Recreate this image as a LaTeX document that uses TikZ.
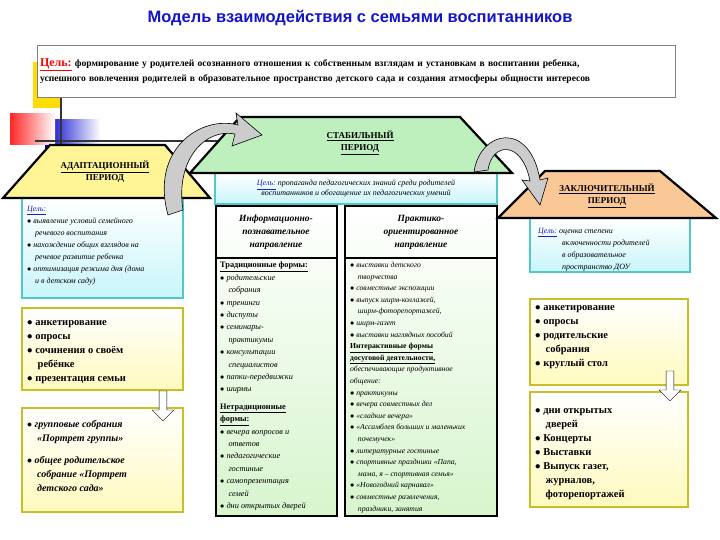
\documentclass[tikz,border=0pt]{standalone}
\usepackage{fontspec}
\setmainfont{Liberation Serif}
\newfontfamily\hd{Liberation Sans}
\usetikzlibrary{shapes.arrows}
\definecolor{ttl}{RGB}{20,20,200}
\definecolor{cy}{RGB}{80,200,200}
\definecolor{lcy}{RGB}{200,245,250}
\definecolor{yb}{RGB}{200,190,40}
\definecolor{ly}{RGB}{255,250,190}
\definecolor{trY}{RGB}{255,245,150}
\definecolor{trG}{RGB}{190,240,190}
\definecolor{trP}{RGB}{250,200,150}
\definecolor{lg}{RGB}{215,245,205}
\definecolor{lnk}{RGB}{30,30,200}
\tikzset{
 roof/.style={draw=black,line width=2.2pt,line join=miter},
 goalbox/.style={draw=cy,line width=2pt,top color=white,bottom color=lcy},
 ybox/.style={draw=yb,line width=2pt,top color=white,bottom color=ly},
 col/.style={draw=black,line width=1.8pt,top color=white,bottom color=lg},
 txt/.style={anchor=north west,align=left,font=\fontsize{8}{12}\selectfont\itshape,inner sep=0pt},
 big/.style={anchor=north west,align=left,font=\fontsize{10.5}{14}\selectfont\bfseries,inner sep=0pt},
 ttxt/.style={align=center,font=\fontsize{9}{12}\selectfont\bfseries},
 curv/.style={draw=black,fill=black!20,line width=0.6pt},
 dn/.style={single arrow,shape border rotate=270,draw=black,fill=white,minimum height=30pt,minimum width=22pt,single arrow head extend=4pt,inner sep=2pt}
}
\newcommand{\lk}[1]{\textcolor{lnk}{\underline{\textbf{#1}}}}
\newcommand{\bu}{$\bullet$\ }
\begin{document}
\begin{tikzpicture}[x=1pt,y=-1pt]
\useasboundingbox (0,0) rectangle (720,540);
\fill[white] (0,0) rectangle (720,540);
% decoration
\fill[yellow!80!orange] (33,62) rectangle (62,108);
\shade[left color=blue!80!black,right color=white] (45,120) rectangle (100,150);
\shade[left color=red!85,right color=white] (10,114) rectangle (55,145);
\draw[black!80,line width=1.3pt] (35,141) -- (330,141);
\draw[black!80,line width=1.3pt] (61,95) -- (61,145);
\node[font=\hd\fontsize{16.5}{18}\selectfont\bfseries,text=ttl] (title) at (360,18) {Модель взаимодействия с семьями воспитанников};
\node[draw=black!50,fill=white,line width=0.8pt,minimum width=638pt,minimum height=52pt,align=left,font=\fontsize{9.6}{15}\selectfont\bfseries,text width=632pt,inner sep=3pt] (goal) at (356,71)
 {\textcolor{red}{\underline{\fontsize{12}{14}\selectfont Цель:}} формирование у родителей осознанного отношения к собственным взглядам и установкам в воспитании ребенка,\\ успешного  вовлечения родителей в образовательное пространство детского сада и создания атмосферы общности интересов};
% left column
\draw[goalbox] (22,198) rectangle (183,298);
\node[txt] (lg) at (27,206) {\lk{\itshape\mdseries Цель:}\\ \bu выявление условий семейного\\ \quad речевого воспитания\\ \bu нахождение общих взглядов на\\ \quad речевое развитие ребенка\\ \bu оптимизация режима дня (дома\\ \quad и в детском саду)};
\draw[roof,fill=trY] (50,145) -- (165,145) -- (210,198) -- (3,198) -- cycle;
\node[ttxt] (ad) at (105,172) {\underline{АДАПТАЦИОННЫЙ}\\ПЕРИОД};
\draw[ybox] (22,308) rectangle (183,390);
\node[big] (l2) at (27,320) {\bu анкетирование\\ \bu опросы\\ \bu сочинения о своём\\ \quad ребёнке\\ \bu презентация семьи};
\draw[ybox] (22,408) rectangle (183,512);
\node[big,font=\fontsize{10}{14}\selectfont\bfseries\itshape] (l3) at (27,420) {\bu групповые собрания\\ \quad «Портрет группы»\\[8pt] \bu общее родительское\\ \quad собрание «Портрет\\ \quad детского сада»};
\node[dn] (ad1) at (163,404) {};
% middle
\draw[goalbox] (215,173) rectangle (497,204);
\node[font=\fontsize{8}{10}\selectfont\itshape,align=center] (mg) at (356,189) {\lk{\mdseries Цель:} пропаганда педагогических знаний среди родителей\\ воспитанников и обогащение их педагогических умений};
\draw[roof,fill=trG] (240,117) -- (460,117) -- (512,173) -- (190,173) -- cycle;
\node[ttxt] (st) at (360,143) {\underline{СТАБИЛЬНЫЙ}\\ \underline{ПЕРИОД}};
\draw[col] (216,206) rectangle (337,516);
\draw[col] (345,206) rectangle (497,516);
\draw[black,line width=1.8pt] (216,258) -- (337,258) (345,258) -- (497,258);
\node[ttxt,font=\fontsize{9.5}{13}\selectfont\bfseries\itshape] (h1) at (276,232) {Информационно-\\познавательное\\направление};
\node[ttxt,font=\fontsize{9.5}{13}\selectfont\bfseries\itshape] (h2) at (421,232) {Практико-\\ориентированное\\направление};
\node[txt,font=\fontsize{8.3}{12.4}\selectfont\itshape] (c1) at (220,262) {{\upshape\bfseries\underline{Традиционные формы:}}\\ \bu родительские\\ \quad собрания\\ \bu тренинги\\ \bu диспуты\\ \bu семинары-\\ \quad практикумы\\ \bu консультации\\ \quad специалистов\\ \bu папки-передвижки\\ \bu ширмы\\[5pt] {\upshape\bfseries\underline{Нетрадиционные}}\\ {\upshape\bfseries\underline{формы:}}\\ \bu вечера вопросов и\\ \quad ответов\\ \bu педагогические\\ \quad гостиные\\ \bu самопрезентация\\ \quad семей\\ \bu дни открытых дверей};
\node[txt,font=\fontsize{7.7}{11.6}\selectfont\itshape] (c2) at (350,262) {\bu выставки детского\\ \quad творчества\\ \bu совместные экспозиции\\ \bu выпуск ширм-коллажей,\\ \quad ширм-фоторепортажей,\\ \bu ширм-газет\\ \bu выставки наглядных пособий\\ {\upshape\bfseries\underline{Интерактивные формы}}\\ {\upshape\bfseries\underline{досуговой деятельности,}}\\ обеспечивающие продуктивное\\ общение:\\ \bu практикумы\\ \bu вечера совместных дел\\ \bu «сладкие вечера»\\ \bu «Ассамблея больших и маленьких\\ \quad почемучек»\\ \bu литературные гостиные\\ \bu спортивные праздники «Папа,\\ \quad мама, я -- спортивная семья»\\ \bu «Новогодний карнавал»\\ \bu совместные развлечения,\\ \quad праздники, занятия};
% right
\draw[goalbox] (530,218) rectangle (690,272);
\node[txt] (rg) at (538,228) {\lk{\mdseries Цель:} оценка степени\\ \hspace*{24pt}включенности родителей\\ \hspace*{24pt}в образовательное\\ \hspace*{24pt}пространство ДОУ};
\draw[roof,fill=trP] (545,171) -- (660,171) -- (716,218) -- (498,218) -- cycle;
\node[ttxt] (zk) at (607,196) {\underline{ЗАКЛЮЧИТЕЛЬНЫЙ}\\ \underline{ПЕРИОД}};
\draw[ybox] (530,299) rectangle (688,385);
\node[big] (r2) at (535,305) {\bu анкетирование\\ \bu опросы\\ \bu родительские\\ \quad собрания\\ \bu круглый стол};
\draw[ybox] (530,392) rectangle (688,507);
\node[big] (r3) at (535,408) {\bu дни открытых\\ \quad дверей\\ \bu Концерты\\ \bu Выставки\\ \bu Выпуск газет,\\ \quad журналов,\\ \quad фоторепортажей};
\node[dn] (ad2) at (670,384) {};
% curved arrows
\draw[curv] (168,215) .. controls (150,150) and (200,115) .. (238,125) -- (236,113) -- (262,135) -- (232,146) -- (235,134) .. controls (205,128) and (175,160) .. (183,210) -- cycle;
\draw[curv] (474,172) .. controls (480,130) and (530,120) .. (540,180) -- (548,178) -- (540,205) -- (522,180) -- (530,181) .. controls (522,140) and (492,142) .. (488,170) -- cycle;
\end{tikzpicture}
\end{document}
